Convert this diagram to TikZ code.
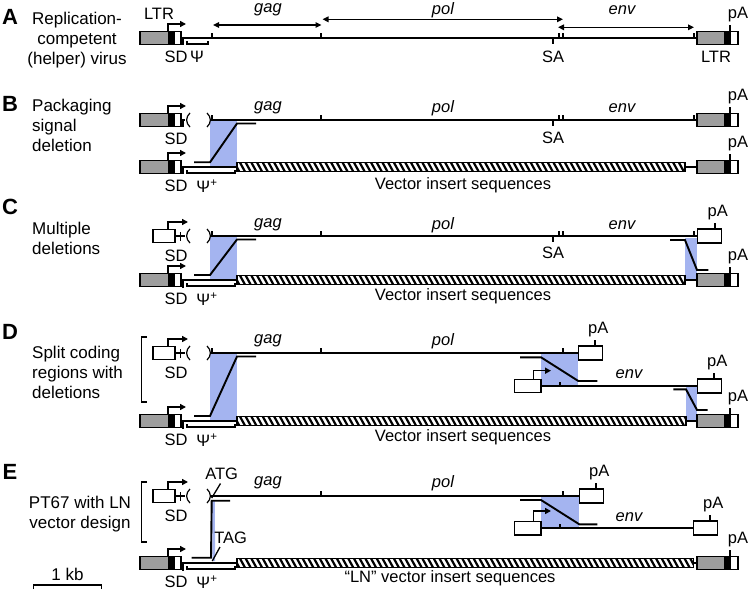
\documentclass[tikz,border=0pt]{standalone}
\usepackage{fontspec}
\setmainfont{Liberation Sans}
\usetikzlibrary{arrows.meta}
\definecolor{delblue}{RGB}{164,180,240}
\definecolor{ltrgray}{RGB}{158,158,158}
\tikzset{
 ln/.style={line width=1.9pt},
 thinln/.style={line width=1.3pt},
 bx/.style={line width=1.5pt},
 smtxt/.style={font=\fontsize{16.5}{19}\selectfont, inner sep=0pt},
 gene/.style={font=\fontsize{16.5}{19}\selectfont\itshape, inner sep=0pt},
 panel/.style={font=\fontsize{22}{25}\selectfont\bfseries, inner sep=0pt},
 desc/.style={font=\fontsize{17}{20}\selectfont, inner sep=0pt},
 prom/.style={line width=1.5pt, -{Triangle[length=6pt,width=6pt]}},
 dbl/.style={line width=1.5pt, {Triangle[length=6pt,width=5.5pt]}-{Triangle[length=6pt,width=5.5pt]}},
}
% left LTR box with promoter arrow and SD tick
\newcommand\LTRleft[2]{%
 \fill[ltrgray] (140,#1-6.5) rectangle (168,#1+6.5);
 \fill[black] (168,#1-6.5) rectangle (174.5,#1+6.5);
 \draw[bx] (140,#1-6.5) rectangle (181,#1+6.5);
 \draw[prom] (168,#1-6.5) -- (168,#1-14) -- (186,#1-14);
 \draw[thinln] (183,#1-1) -- (183,#1+7.5);
 \node[smtxt] (#2sd) at (176,#1+19) {SD};
}
% right LTR box with pA
\newcommand\LTRright[2]{%
 \fill[ltrgray] (697,#1-6.5) rectangle (724,#1+6.5);
 \fill[black] (724,#1-6.5) rectangle (731,#1+6.5);
 \draw[bx] (697,#1-6.5) rectangle (738,#1+6.5);
 \draw[ln] (730,#1-6.5) -- (730,#1-13);
 \node[smtxt, anchor=base] (#2pa) at (738,#1-19.5) {pA};
}
% white pA box: x-left, y, name
\newcommand\PAbox[3]{%
 \draw[bx, fill=white] (#1,#2-7) rectangle (#1+24,#2+7);
 \draw[ln] (#1+17,#2-7) -- (#1+17,#2-13.5);
 \node[smtxt, anchor=base] (#3) at (#1+20,#2-19.5) {pA};
}
% white promoter box of a helper construct
\newcommand\Helper[2]{%
 \draw[bx, fill=white] (153,#1-6.5) rectangle (175,#1+6.5);
 \draw[prom] (168,#1-6.5) -- (168,#1-14) -- (188,#1-14);
 \draw[thinln] (175,#1) -- (185,#1);
 \draw[thinln] (180.5,#1-4) -- (180.5,#1+5);
 \node[smtxt] (#2sd) at (176,#1+20) {SD};
}
% deleted packaging signal ( )
\newcommand\Parens[1]{%
 \draw[line width=1.2pt] (190,#1-7) .. controls (185.5,#1-3) and (185.5,#1+3) .. (190,#1+7);
 \draw[line width=1.2pt] (207,#1-7) .. controls (211.5,#1-3) and (211.5,#1+3) .. (207,#1+7);
}
% hatched vector insert bar: x1, x2, y
\newcommand\Hatch[3]{%
 \begin{scope}
 \clip (#1,#3-4.5) rectangle (#2,#3+4.5);
 \fill[white] (#1,#3-4.5) rectangle (#2,#3+4.5);
 \foreach \i in {0,...,82} {\draw[line width=2.2pt] ({#1+\i*5.7-3},{#3-5}) -- ({#1+\i*5.7+2.5},{#3+5});}
 \end{scope}
 \draw[bx] (#1,#3-4.5) rectangle (#2,#3+4.5);
}
% psi+ bracket and label at y of construct
\newcommand\PsiPlus[2]{%
 \draw[thinln] (187,#1+3) -- (187,#1+6) -- (235,#1+6) -- (235,#1+3);
 \node[smtxt] (#2psi) at (207,#1+19) {Ψ\textsuperscript{+}};
}
\begin{document}
\begin{tikzpicture}[x=1pt,y=-1pt]
\useasboundingbox (0,0) rectangle (750,591);

%================ A =================
\node[panel] (pA) at (10,17) {A};
\node[desc, align=center] (dA) at (77,40) {Replication-\\competent\\(helper) virus};
\draw[ln] (181,38) -- (697,38);
\LTRleft{38}{a}
\LTRright{38}{a}
\foreach \t in {212,321,559,563,694} {\draw[thinln] (\t,38) -- (\t,33);}
\draw[thinln] (553,38) -- (553,44);
\draw[thinln] (187,41) -- (187,44) -- (208,44) -- (208,41);
\node[smtxt] (apsi) at (197,57) {Ψ};
\node[smtxt] (asa) at (553,57) {SA};
\node[smtxt] (altrl) at (159,14) {LTR};
\node[smtxt] (altrr) at (716,57) {LTR};
\draw[dbl] (213,25) -- (321.5,25);
\draw[dbl] (322.5,19.3) -- (563,19.3);
\draw[dbl] (558,27.3) -- (694,27.3);
\node[gene] (agag) at (268,10) {gag};
\node[gene] (apol) at (443,10) {pol};
\node[gene] (aenv) at (622,10) {env};

%================ B =================
\node[panel] (pB) at (10,104) {B};
\node[desc, align=left, anchor=west] (dB) at (32,125) {Packaging\\signal\\deletion};
\fill[delblue] (210,120) rectangle (237,166);
\LTRleft{120}{bt}
\draw[thinln] (181,120) -- (185,120);
\Parens{120}
\draw[ln] (211,120) -- (697,120);
\foreach \t in {212,321,559,563,694} {\draw[thinln] (\t,120) -- (\t,115);}
\draw[thinln] (553,120) -- (553,126);
\node[smtxt] (bsa) at (553,138) {SA};
\LTRright{120}{bt}
\node[gene] (bgag) at (268,108) {gag};
\node[gene] (bpol) at (443,108) {pol};
\node[gene] (benv) at (622,108) {env};
\draw[ln] (181,167) -- (237,167);
\LTRleft{167}{bb}
\PsiPlus{167}{bb}
\Hatch{237}{685}{167}
\draw[ln] (685,167) -- (697,167);
\LTRright{167}{bb}
\draw[ln] (194,162.3) -- (210,162.3) -- (237,123.5) -- (256,123.5);
\node[smtxt] (bvec) at (463,185) {Vector insert sequences};

%================ C =================
\node[panel] (pC) at (10,207) {C};
\node[desc, align=left, anchor=west] (dC) at (32,238) {Multiple\\deletions};
\fill[delblue] (210,236) rectangle (237,279);
\fill[delblue] (685,238) rectangle (697,280);
\Helper{236}{ct}
\Parens{236}
\draw[ln] (211,236) -- (697.7,236);
\foreach \t in {212,321,559,563,694} {\draw[thinln] (\t,236) -- (\t,231);}
\draw[thinln] (553,236) -- (553,242);
\node[smtxt] (csa) at (553,253) {SA};
\PAbox{697.7}{236}{ctpa}
\node[gene] (cgag) at (268,225) {gag};
\node[gene] (cpol) at (443,225) {pol};
\node[gene] (cenv) at (622,225) {env};
\draw[ln] (181,280) -- (237,280);
\LTRleft{280}{cb}
\PsiPlus{280}{cb}
\Hatch{237}{685}{280}
\draw[ln] (685,280) -- (697,280);
\LTRright{280}{cb}
\draw[ln] (194,275) -- (210,275) -- (237,239.5) -- (256,239.5);
\draw[ln] (670,240) -- (685,240) -- (697,270) -- (708.3,270);
\node[smtxt] (cvec) at (463,296) {Vector insert sequences};

%================ D =================
\node[panel] (pD) at (10,332) {D};
\node[desc, align=left, anchor=west] (dD) at (32,372) {Split coding\\regions with\\deletions};
\draw[thinln] (147,337) -- (141.5,337) -- (141.5,402) -- (147,402);
\fill[delblue] (210,353) rectangle (237,420);
\fill[delblue] (541,353) rectangle (578.3,386);
\fill[delblue] (686,386) rectangle (697,421);
\Helper{353}{dt}
\Parens{353}
\draw[ln] (211,353) -- (578.3,353);
\foreach \t in {212,321,563} {\draw[thinln] (\t,353) -- (\t,348);}
\PAbox{578.3}{353}{dtpa}
\node[gene] (dgag) at (268,341) {gag};
\node[gene] (dpol) at (443,341) {pol};
% env construct
\draw[ln] (541,386) -- (697.3,386);
\draw[bx, fill=white] (514.3,379.3) rectangle (541,392.7);
\draw[prom] (533.3,379.3) -- (533.3,370.7) -- (551,370.7);
\draw[thinln] (560,386) -- (560,381.5);
\PAbox{697.3}{386}{dmpa}
\node[gene] (denv) at (629,374) {env};
\draw[ln] (520,357.3) -- (541,357.3) -- (578.3,381) -- (597.3,381);
\draw[ln] (673.3,389.3) -- (686,389.3) -- (697,410) -- (707.7,410);
\draw[ln] (181,421) -- (237,421);
\LTRleft{421}{db}
\PsiPlus{421}{db}
\Hatch{237}{686}{421}
\draw[ln] (686,421) -- (697,421);
\LTRright{421}{db}
\draw[ln] (194,416) -- (210,416) -- (237,356.5) -- (256,356.5);
\node[smtxt] (dvec) at (463,437) {Vector insert sequences};

%================ E =================
\node[panel] (pE) at (10,472) {E};
\node[desc, align=center] (dE) at (80,514.5) {PT67 with LN\\vector design};
\draw[thinln] (147,482) -- (141.5,482) -- (141.5,542) -- (147,542);
\fill[delblue] (541,496) rectangle (579.3,528);
\fill[delblue] (212,500) -- (214.8,500) -- (215.2,561) -- (212.5,561) -- cycle;
\Helper{496}{et}
\Parens{496}
\draw[ln] (211,496) -- (579.3,496);
\foreach \t in {321,563} {\draw[thinln] (\t,496) -- (\t,491);}
\PAbox{579.3}{496}{etpa}
\node[gene] (egag) at (268,483) {gag};
\node[gene] (epol) at (443,483) {pol};
\node[smtxt] (eatg) at (221.7,474) {ATG};
\draw[thinln] (211.7,498) -- (220.5,483.5);
\node[smtxt] (etag) at (230.7,538) {TAG};
\draw[thinln] (212.3,561) -- (220,547);
\draw[ln] (191.7,557.7) -- (211,557.7) -- (211.7,500.7) -- (230,500.7);
% env construct
\draw[ln] (541,528) -- (693.3,528);
\draw[bx, fill=white] (514.3,521.7) rectangle (541,535);
\draw[prom] (533.3,521.7) -- (533.3,511) -- (551,511);
\draw[thinln] (560,528) -- (560,523.5);
\PAbox{693.3}{528}{empa}
\node[gene] (eenv) at (629,516.7) {env};
\draw[ln] (520,500) -- (541,500) -- (579.3,524.3) -- (597.3,524.3);
\draw[ln] (181,563) -- (237,563);
\LTRleft{563}{eb}
\PsiPlus{563}{eb}
\Hatch{237}{693.3}{563}
\draw[ln] (693.3,563) -- (697,563);
\LTRright{563}{eb}
\node[smtxt] (evec) at (450,578) {“LN” vector insert sequences};

% scale bar
\coordinate (sb1) at (33.3,585);
\coordinate (sb2) at (101.7,585);
\draw[thinln] ([yshift=-4pt]sb1) -- (sb1) -- (sb2) -- ([yshift=-4pt]sb2);
\node[desc] (kb) at (67.5,574.5) {1 kb};
\end{tikzpicture}
\end{document}
